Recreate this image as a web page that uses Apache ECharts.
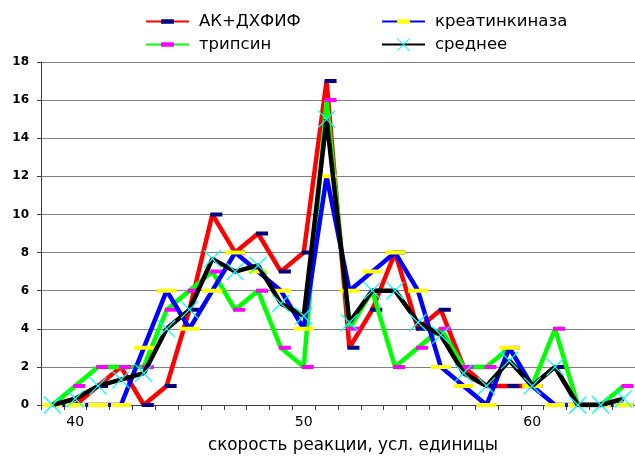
<!DOCTYPE html>
<html>
<head>
<meta charset="utf-8">
<script src="https://cdn.jsdelivr.net/npm/echarts@6/dist/echarts.min.js"></script>
<style>html,body{margin:0;padding:0;background:#fff}#c{width:635px;height:459px}</style>
</head>
<body>
<div id="c"></div>
<script>
var categories = ['39','40','41','42','43','44','45','46','47','48','49','50','51','52','53','54','55','56','57','58','59','60','61','62','63','64'];
var akDhfif   = [0,0,1,2,0,1,5,10,8,9,7,8,17,3,5,8,4,5,2,1,1,1,2,0,0,0];
var tripsin   = [0,1,2,2,2,5,6,7,5,6,3,2,16,4,6,2,3,4,2,2,3,1,4,0,0,1];
var kreatin   = [0,0,0,0,3,6,4,6,8,7,6,4,12,6,7,8,6,2,1,0,3,1,0,0,0,0];
var srednee   = [0,0.33,1,1.33,1.67,4,5,7.67,7,7.33,5.33,4.67,15,4.33,6,6,4.33,3.67,1.67,1,2.33,1,2,0,0,0.33];
var yTicks    = [0,2,4,6,8,10,12,14,16,18];
var names     = ['АК+ДХФИФ','креатинкиназа','трипсин','среднее'];

var FONT = 'DejaVu Sans';
var dashPath = 'path://M0,0L0.01,0L0,0.01Z M30,30L29.99,30L30,29.99Z M0,10L30,10L30,20L0,20Z';
var crossPath = 'path://M0,1L1,0L10,9L19,0L20,1L11,10L20,19L19,20L10,11L1,20L0,19L9,10Z';

function lineSeries(name, data, lineColor, markColor, symbol, size, offset, z) {
  return {
    name: name, type: 'line', data: data, z: z,
    symbol: symbol, symbolSize: size, symbolOffset: offset, showAllSymbol: true,
    lineStyle: { color: lineColor, width: 4.5 },
    itemStyle: { color: markColor },
    emphasis: { disabled: true }
  };
}

function legendAt(name, left, top) {
  return {
    data: [name], left: left, top: top, padding: 0,
    itemWidth: 43, itemHeight: 16,
    textStyle: { fontFamily: FONT, fontSize: 16.5, color: '#000', padding: [0,0,0,5] },
    selectedMode: false
  };
}

var chart = echarts.init(document.getElementById('c'), null, { renderer: 'canvas' });
chart.setOption({
  animation: false,
  backgroundColor: '#fff',
  legend: [
    legendAt(names[0], 145, 13),
    legendAt(names[1], 381, 13),
    legendAt(names[2], 145, 36),
    legendAt(names[3], 381, 36)
  ],
  grid: { left: 41, top: 62, width: 603, height: 349, containLabel: false },
  xAxis: {
    type: 'category', data: categories, boundaryGap: true,
    axisLine: { lineStyle: { color: '#404040', width: 1 } },
    axisTick: { show: true, interval: 0, length: 5, lineStyle: { color: '#404040' } },
    axisLabel: {
      interval: function (i, v) { return Number(v) % 10 === 0; },
      fontFamily: FONT, fontSize: 14, color: '#000', margin: 10
    },
    splitLine: { show: false },
    name: 'скорость реакции, усл. единицы', nameLocation: 'middle', nameGap: 32,
    nameTextStyle: { fontFamily: FONT, fontSize: 16.8, color: '#000', padding: [0,0,0,30] }
  },
  yAxis: {
    type: 'value', min: 0, max: 18, interval: 2,
    axisLine: { show: true, lineStyle: { color: '#404040', width: 1 } },
    axisTick: { show: true, length: 4, lineStyle: { color: '#404040' } },
    axisLabel: {
      fontFamily: FONT, fontSize: 12, fontWeight: 'bold', color: '#000', margin: 12,
      formatter: function (v) { return yTicks.indexOf(v) >= 0 ? String(v) : ''; }
    },
    splitLine: { show: true, lineStyle: { color: '#808080', width: 1 } }
  },
  series: [
    lineSeries(names[0], akDhfif, '#ff0000', '#000080', dashPath, [12, 12], [4, 0], 2),
    lineSeries(names[2], tripsin, '#00ff00', '#ff00ff', dashPath, [12, 12], [4, 0], 3),
    lineSeries(names[1], kreatin, '#0000ff', '#ffff00', dashPath, [20, 12], [0, 0], 4),
    lineSeries(names[3], srednee, '#000000', '#00ffff', crossPath, 18, [0, 0], 5)
  ]
});
</script>
</body>
</html>
